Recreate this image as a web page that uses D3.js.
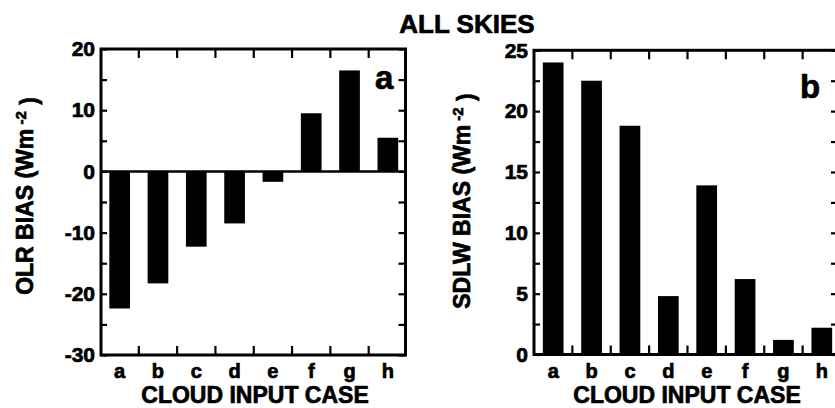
<!DOCTYPE html>
<html>
<head>
<meta charset="utf-8">
<script src="https://cdn.jsdelivr.net/npm/d3@7"></script>
<style>
  html, body { margin: 0; padding: 0; background: #fff; }
  svg { display: block; }
  text {
    font-family: "Liberation Sans", Arial, Helvetica, sans-serif;
    font-weight: bold;
    fill: #000;
    stroke: #000;
    stroke-width: 0.7px;
  }
</style>
</head>
<body>
<svg id="chart" width="835" height="408"></svg>
<script>
// Cloud input cases along the x axis
const categories = ["a", "b", "c", "d", "e", "f", "g", "h"];

// Outgoing longwave radiation bias (W m-2) per case
const olrBias = [-22.4, -18.3, -12.3, -8.5, -1.7, 9.5, 16.5, 5.5];

// Surface downward longwave bias (W m-2) per case
const sdlwBias = [24.0, 22.5, 18.8, 4.8, 13.9, 6.2, 1.2, 2.2];

// Labelled y ticks for each panel
const olrTicks = [20, 10, 0, -10, -20, -30];
const sdlwTicks = [25, 20, 15, 10, 5, 0];

const svg = d3.select("#chart");
svg.append("rect").attr("width", 835).attr("height", 408).attr("fill", "#fff");

svg.append("text")
  .attr("x", 467).attr("y", 33)
  .attr("text-anchor", "middle")
  .style("font-size", "26px")
  .text("ALL SKIES");

function drawPanel(o) {
  const g = svg.append("g");
  const x = d3.scaleBand()
    .domain(categories)
    .range(o.xRange)
    .paddingInner(0.46)
    .paddingOuter(0.23);
  const y = d3.scaleLinear().domain(o.domain).range([o.bottom, o.top]);
  const base = Math.max(0, o.domain[0]);

  // bars
  g.selectAll("rect.bar")
    .data(o.values)
    .join("rect")
    .attr("class", "bar")
    .attr("x", (d, i) => x(categories[i]))
    .attr("width", x.bandwidth())
    .attr("y", d => y(Math.max(d, base)))
    .attr("height", d => Math.abs(y(d) - y(base)))
    .attr("fill", "#000");

  // zero line
  if (o.domain[0] < 0) {
    g.append("line")
      .attr("x1", o.left).attr("x2", o.right)
      .attr("y1", y(0)).attr("y2", y(0))
      .attr("stroke", "#000").attr("stroke-width", 2.5);
  }

  // inward ticks on the left and right frame edges
  const minorVals = d3.range(o.domain[0], o.domain[1] + 0.001, o.minorStep);
  const leftTicks = d3.axisRight(y).tickValues(minorVals).tickSize(6).tickFormat("");
  const rightTicks = d3.axisLeft(y).tickValues(minorVals).tickSize(7).tickFormat("");
  [[leftTicks, o.left], [rightTicks, o.right]].forEach(([ax, px]) => {
    const a = g.append("g").attr("transform", `translate(${px},0)`).call(ax);
    a.select(".domain").remove();
    a.selectAll(".tick line").attr("stroke", "#000").attr("stroke-width", 2.2);
  });

  // inward ticks on top and bottom at the case boundaries
  const step = x.step();
  const bounds = categories.slice(1).map(c => x(c) - step * x.paddingInner() / 2);
  g.selectAll("line.tb")
    .data(bounds)
    .join("line")
    .attr("class", "tb")
    .attr("x1", d => d).attr("x2", d => d)
    .attr("y1", o.top).attr("y2", o.top + 9)
    .attr("stroke", "#000").attr("stroke-width", 2.2);
  g.selectAll("line.bb")
    .data(bounds)
    .join("line")
    .attr("class", "bb")
    .attr("x1", d => d).attr("x2", d => d)
    .attr("y1", o.bottom).attr("y2", o.bottom - 9)
    .attr("stroke", "#000").attr("stroke-width", 2.2);

  // frame
  g.append("rect")
    .attr("x", o.left).attr("y", o.top)
    .attr("width", o.right - o.left).attr("height", o.bottom - o.top)
    .attr("fill", "none").attr("stroke", "#000").attr("stroke-width", 3);

  // y tick labels (plain hyphen for negatives)
  const yLab = g.append("g")
    .attr("transform", `translate(${o.left},0)`)
    .call(d3.axisLeft(y).tickValues(o.ticks).tickSize(0).tickPadding(6)
      .tickFormat(d => String(d)));
  yLab.select(".domain").remove();
  yLab.selectAll("text")
    .style("font-family", '"Liberation Sans", Arial, sans-serif')
    .style("font-weight", "bold")
    .style("font-size", "21px")
    .attr("fill", "#000");

  // x category labels
  const xLab = g.append("g")
    .attr("transform", `translate(0,${o.bottom})`)
    .call(d3.axisBottom(x).tickSize(0).tickPadding(9));
  xLab.select(".domain").remove();
  xLab.selectAll("text")
    .style("font-family", '"Liberation Sans", Arial, sans-serif')
    .style("font-weight", "bold")
    .style("font-size", "20px")
    .attr("fill", "#000")
    .attr("dy", "0.71em");

  // x title
  g.append("text")
    .attr("x", o.xTitleX).attr("y", 403)
    .attr("text-anchor", "middle")
    .style("font-size", "23px")
    .text("CLOUD INPUT CASE");

  // y title with superscript
  const yt = g.append("text")
    .attr("transform", `translate(${o.yTitleX},${o.yTitleY}) rotate(-90)`)
    .attr("text-anchor", "middle")
    .style("font-size", "23px");
  yt.append("tspan").text(o.yName + " (Wm");
  yt.append("tspan").attr("dy", "-0.5em").style("font-size", "15px").text(" -2");
  yt.append("tspan").attr("dy", "0.5em").text(" )");

  // panel letter
  g.append("text")
    .attr("x", o.letterX).attr("y", o.letterY)
    .style("font-size", "33px")
    .text(o.letter);
}

drawPanel({
  values: olrBias, domain: [-30, 20], ticks: olrTicks, minorStep: 5,
  left: 101, right: 405.5, top: 49, bottom: 355, xRange: [100.5, 407],
  xTitleX: 255, yTitleX: 33, yTitleY: 196, yName: "OLR BIAS",
  letter: "a", letterX: 375, letterY: 89
});

drawPanel({
  values: sdlwBias, domain: [0, 25], ticks: sdlwTicks, minorStep: 2.5,
  left: 534, right: 838, top: 50.3, bottom: 354.5, xRange: [534, 841],
  xTitleX: 687, yTitleX: 470, yTitleY: 201, yName: "SDLW BIAS",
  letter: "b", letterX: 800, letterY: 98
});
</script>
</body>
</html>
